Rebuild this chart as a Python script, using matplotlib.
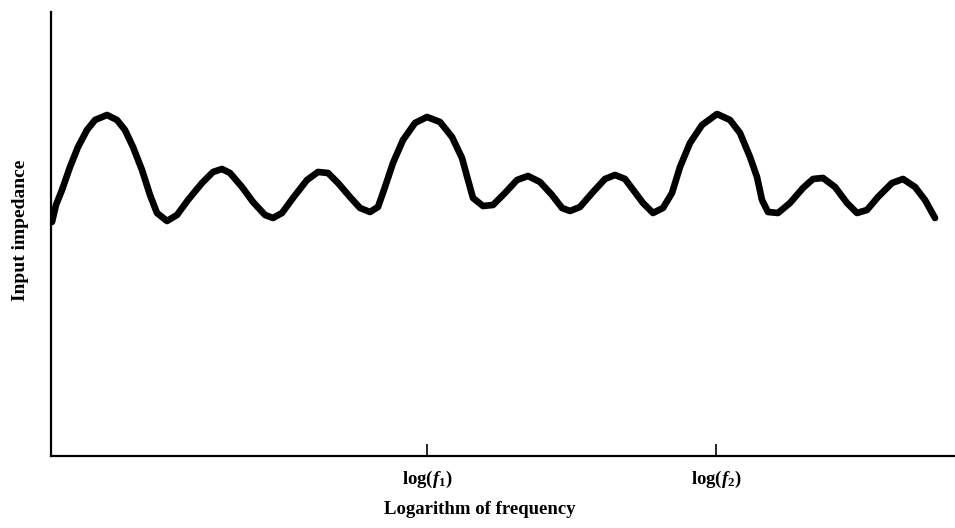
import numpy as np
import matplotlib
matplotlib.use('Agg')
import matplotlib.pyplot as plt

plt.rcParams['font.family'] = 'Liberation Serif'
plt.rcParams['font.weight'] = 'bold'
plt.rcParams['axes.labelweight'] = 'bold'
plt.rcParams['mathtext.fontset'] = 'custom'
plt.rcParams['mathtext.rm'] = 'Liberation Serif:bold'
plt.rcParams['mathtext.it'] = 'Liberation Serif:italic:bold'

# curve (x: log frequency, y: impedance, arbitrary units)
logf = [1, 5, 11, 19, 27, 36, 44, 56, 66, 74, 82, 91, 99, 106, 116, 126, 137,
        151, 162, 171, 179, 191, 202, 214, 222, 231, 242, 256, 267, 277, 287,
        299, 309, 319, 327, 334, 342, 352, 364, 376, 389, 401, 411, 417, 422,
        432, 442, 454, 466, 477, 489, 501, 511, 519, 529, 542, 554, 564, 574,
        586, 592, 602, 612, 621, 629, 639, 651, 666, 679, 689, 699, 706, 711,
        717, 727, 739, 752, 762, 772, 784, 796, 806, 816, 827, 841, 852, 864,
        874, 884]
imped = [234, 251, 266, 289, 309, 326, 336, 341, 336, 326, 309, 286, 261, 243,
         235, 241, 256, 273, 284, 287, 283, 269, 254, 241, 238, 243, 258, 276,
         284, 283, 273, 259, 248, 244, 249, 269, 293, 316, 333, 339, 334, 319,
         298, 276, 258, 250, 251, 263, 276, 280, 274, 261, 248, 245, 249, 264,
         277, 281, 277, 261, 253, 243, 248, 263, 289, 313, 331, 342, 336, 323,
         299, 279, 256, 244, 243, 253, 268, 277, 278, 269, 253, 243, 246, 259,
         273, 277, 269, 256, 238]

tick_pos = [376, 665]
tick_labels = [r'log($f_1$)', r'log($f_2$)']

fig = plt.figure(figsize=(9.55, 5.28), dpi=100)
ax = fig.add_axes([0.0534, 0.1364, 0.9466, 0.8409])

ax.plot(logf, imped, color='black', lw=4.8, solid_joinstyle='round',
        solid_capstyle='round')

ax.set_xlim(0, 904)
ax.set_ylim(0, 444)
for s in ['top', 'right']:
    ax.spines[s].set_visible(False)
for s in ['left', 'bottom']:
    ax.spines[s].set_linewidth(1.6)

ax.set_xticks(tick_pos)
ax.set_xticklabels(tick_labels, fontsize=13.5)
ax.set_yticks([])
ax.tick_params(axis='x', direction='in', length=9, width=1.2, pad=9)

ax.set_xlabel('Logarithm of frequency', fontsize=13.5)
ax.xaxis.set_label_coords(0.4746, -0.102)
ax.set_ylabel('Input impedance', fontsize=14)
ax.yaxis.set_label_coords(-0.0243, 0.509)

fig.savefig('out.png', dpi=100, facecolor='white')
